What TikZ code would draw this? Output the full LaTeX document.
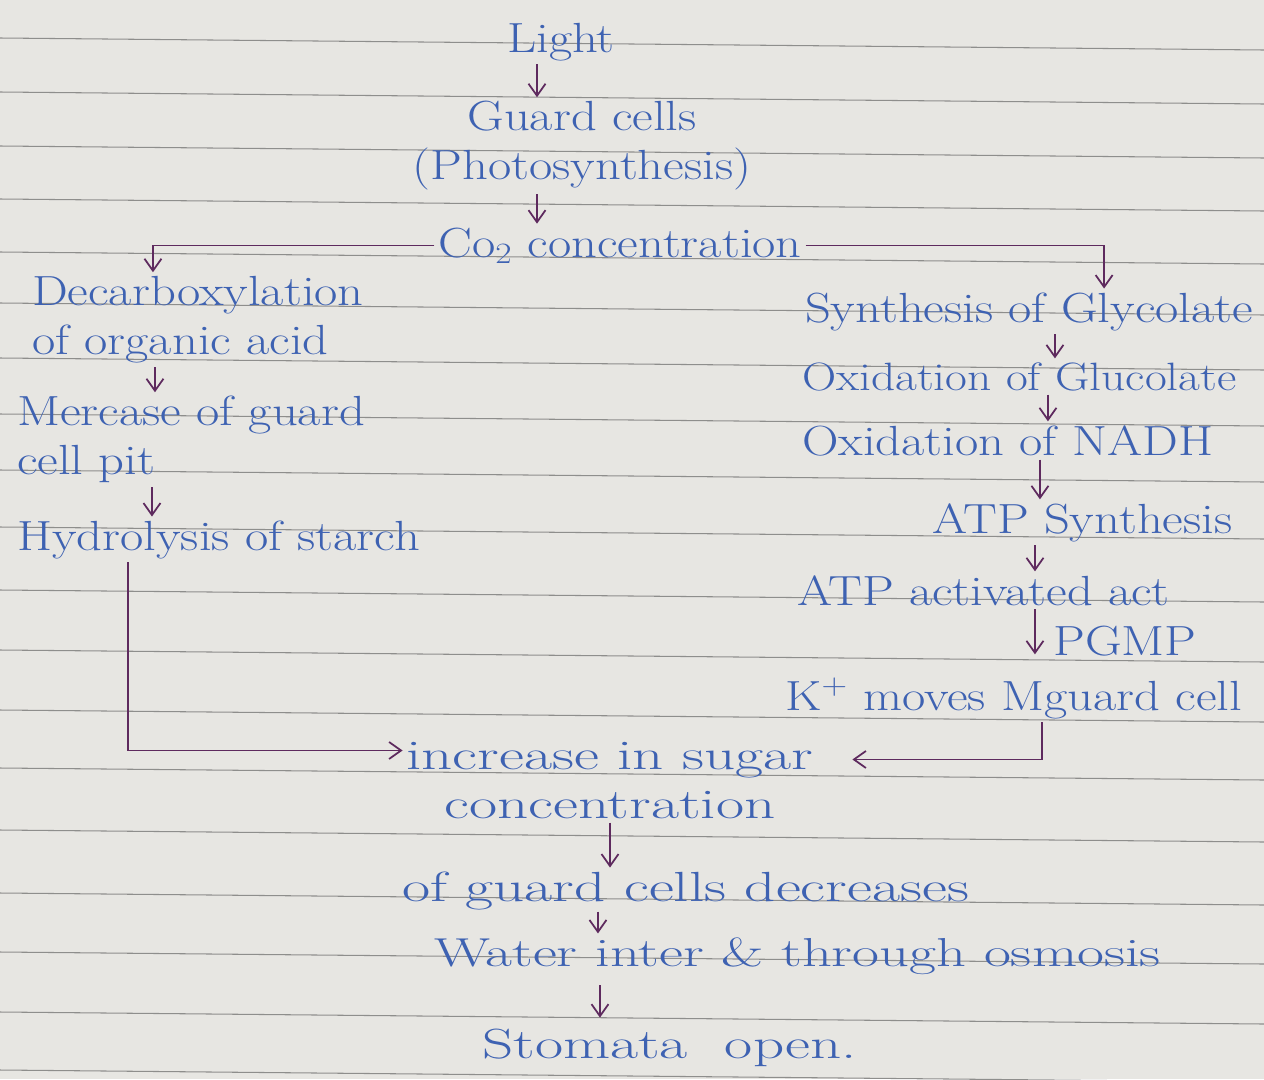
\documentclass[tikz,border=0pt]{standalone}
\usepackage{fontspec}
\setmainfont{Latin Modern Roman}[FakeStretch=1.2]
\newfontfamily\handwide{Latin Modern Roman}[FakeStretch=1.45]
\usepackage{tikz}
\usetikzlibrary{arrows.meta}
\definecolor{ink}{HTML}{3E62B2}
\definecolor{pen}{HTML}{5E2A5E}
\definecolor{paper}{HTML}{E7E6E2}
\definecolor{ruling}{HTML}{8E8E8C}

\begin{document}
\begin{tikzpicture}[x=0.02cm,y=-0.02cm,>={Straight Barb[length=2.4mm,width=3.4mm]},
  txt/.style={text=ink,font=\fontsize{24}{28}\selectfont,inner sep=1pt},
  widetxt/.style={txt,font=\handwide\fontsize{24}{28}\selectfont},
  ltxt/.style={txt,align=left},
  ctxt/.style={txt,align=center},
  flow/.style={->,draw=pen,line width=1pt,shorten <=1pt,shorten >=1pt}]
\fill[paper] (0,0) rectangle (1264,1079);
\useasboundingbox (0,0) rectangle (1264,1079);
% notebook ruling
\foreach \y in {38,92,146,199,252,303,358,414,470,527,590,650,710,768,830,893,952,1012,1070}
  \draw[ruling,line width=0.6pt] (0,\y) -- (1264,\y+12);

% centre column, top
\node[ctxt,anchor=base] (light) at (561,52) {Light};
\node[ctxt,anchor=north] (guard) at (582,99) {Guard cells\\(Photosynthesis)};
\node[ctxt,anchor=base] (co2) at (620,257) {Co\textsubscript{2} concentration};

% left branch
\node[ltxt,anchor=north west] (decarb) at (30,274) {Decarboxylation\\of organic acid};
\node[ltxt,anchor=north west] (mercase) at (15,394) {Mercase of guard\\cell pit};
\node[ltxt,anchor=base west] (hydro) at (15,550) {Hydrolysis of starch};

% right branch
\node[ltxt,anchor=base west] (glyco) at (803,322) {Synthesis of Glycolate};
\node[ltxt,anchor=base west,font=\fontsize{22.5}{28}\selectfont] (oxglu) at (800,390) {Oxidation of Glucolate};
\node[ltxt,anchor=base west] (nadh) at (800,455) {Oxidation of NADH};
\node[ltxt,anchor=base west] (atp) at (930,533) {ATP Synthesis};
\node[ltxt,anchor=base west] (atpact) at (795,605) {ATP activated act};
\node[ltxt,anchor=base west] (kmove) at (783,710) {K\textsuperscript{+} moves Mguard cell};

% centre column, bottom
\node[widetxt,align=center,anchor=north] (sugar) at (610,740) {increase in sugar\\concentration};
\node[widetxt,anchor=base west] (guarddec) at (400,901) {of guard cells decreases};
\node[widetxt,anchor=base west,font=\handwide\fontsize{23}{28}\selectfont] (water) at (432,966) {Water inter \& through osmosis};
\node[widetxt,anchor=base west] (stomata) at (480,1058) {Stomata\ \ open.};

\draw[flow] ([xshift=-0.48cm]light.south) -- ([xshift=-0.48cm]light.south |- guard.north);
\draw[flow] ([xshift=-0.9cm]guard.south) -- ([xshift=-0.9cm]guard.south |- co2.north);
\draw[flow] (co2.west) -| ([xshift=-0.9cm]decarb.north);
\draw[flow] (co2.east) -| ([xshift=1.5cm]glyco.north);

\draw[flow] ([xshift=2.5cm]decarb.south west) -- ([xshift=2.5cm]decarb.south west |- mercase.north);
\draw[flow] ([xshift=2.74cm]mercase.south west) -- ([xshift=2.74cm]mercase.south west |- hydro.north);

\draw[flow] ([xshift=5.04cm]glyco.south west) -- ([xshift=5.04cm]glyco.south west |- oxglu.north);
\draw[flow] ([xshift=4.96cm]oxglu.south west) -- ([xshift=4.96cm]oxglu.south west |- nadh.north);
\draw[flow] ([xshift=4.8cm]nadh.south west) -- ([xshift=4.8cm]nadh.south west |- atp.north);
\draw[flow] ([xshift=2.1cm]atp.south west) -- ([xshift=2.1cm]atp.south west |- atpact.north);
\draw[flow,shorten >=12pt] ([xshift=4.8cm]atpact.south west) -- node[txt,right=9pt] (pgmp) {PGMP} ([xshift=4.8cm]atpact.south west |- kmove.north);

\draw[flow] ([xshift=2.26cm]hydro.south west) |- ([yshift=0.6cm]sugar.west);
\draw[flow] ([xshift=5.18cm]kmove.south west) |- ([xshift=0.7cm,yshift=0.42cm]sugar.east);

\draw[flow] (sugar.south) -- (sugar.south |- guarddec.north);
\draw[flow,shorten <=0pt] ([xshift=3.96cm]guarddec.south west) -- ([xshift=3.96cm]guarddec.south west |- water.north);
\draw[flow,shorten <=5pt,shorten >=5pt] ([xshift=3.36cm]water.south west) -- ([xshift=3.36cm]water.south west |- stomata.north);
\end{tikzpicture}
\end{document}
